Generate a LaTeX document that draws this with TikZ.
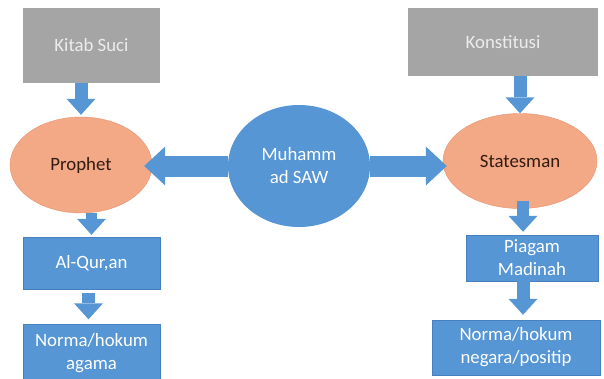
\documentclass[tikz,border=0pt]{standalone}
\usepackage{fontspec}
\setmainfont{Carlito}
\usetikzlibrary{arrows.meta,positioning,calc,shapes.geometric}
\definecolor{SiraBlue}{RGB}{86,150,212}
\definecolor{SiraBlueEdge}{RGB}{70,128,190}
\definecolor{SiraGray}{RGB}{165,165,165}
\definecolor{SiraPaleText}{RGB}{236,236,236}
\definecolor{SiraOrange}{RGB}{243,168,134}
\definecolor{SiraOrangeEdge}{RGB}{232,146,110}
\definecolor{SiraDark}{RGB}{50,28,18}

\begin{document}
\begin{tikzpicture}[x=1pt,y=-1pt,
    source/.style={fill=SiraGray,text=SiraPaleText,inner sep=2pt,font=\fontsize{18.8}{23}\selectfont},
    role/.style={ellipse,fill=SiraOrange,draw=SiraOrangeEdge,text=SiraDark,inner sep=0pt,font=\fontsize{18.8}{23}\selectfont},
    result/.style={fill=SiraBlue,draw=SiraBlueEdge,text=white,align=center,inner sep=2pt,font=\fontsize{18.8}{23}\selectfont},
    flow/.style={SiraBlue,line width=13pt,-{Triangle[length=16pt,width=29pt,line width=0pt]}},
    bigflow/.style={SiraBlue,line width=21pt,-{Triangle[length=21pt,width=39pt,line width=0pt]}}
  ]
    \useasboundingbox (0,0) rectangle (604,378);

    \node[source,minimum width=137pt,minimum height=75pt] (kitab) at (91.5,45.5) {Kitab Suci};
    \node[source,minimum width=190pt,minimum height=68pt] (konst) at (503,42) {Konstitusi};

    \node[role,minimum width=142pt,minimum height=96pt] (prophet) at (81,165) {Prophet};
    \node[ellipse,fill=SiraBlue,text=white,align=center,minimum width=142pt,minimum height=122pt,font=\fontsize{18.8}{23}\selectfont] (muh) at (299,166) {Muhamm\\ad SAW};
    \node[role,minimum width=154pt,minimum height=95pt] (states) at (520,161) {Statesman};

    \node[result,minimum width=137pt,minimum height=52pt] (quran) at (91.5,263) {Al-Qur,an};
    \node[result,minimum width=137pt,minimum height=57pt] (agama) at (91.5,353) {Norma/hokum\\agama};
    \node[result,minimum width=132pt,minimum height=46pt] (piagam) at (532,258) {Piagam\\Madinah};
    \node[result,minimum width=168pt,minimum height=55pt] (negara) at (516,347.5) {Norma/hokum\\negara/positip};

    % left column
    \draw[flow,shorten >=2pt] (kitab.south -| prophet.north) -- (prophet.north);
    \draw[bigflow,shorten >=-8pt] (muh.west) -- (muh.west -| prophet.east);
    \draw[flow,line width=11pt,shorten >=2pt] (prophet.south -| quran.north) -- (quran.north);
    \draw[flow,shorten <=4pt,shorten >=5pt] ($(quran.south)+(-3,0)$) -- ($(agama.north)+(-3,0)$);

    % right column
    \draw[flow,shorten >=0pt] (konst.south -| states.north) -- (states.north);
    \draw[bigflow,shorten >=-4pt] (muh.east) -- (muh.east -| states.west);
    \draw[flow,line width=12pt,shorten <=-8pt,shorten >=3pt] ($(states.south)+(3,0)$) -- ($(states.south |- piagam.north)+(3,0)$);
    \draw[flow,shorten <=-2pt,shorten >=5pt] ($(piagam.south -| states.south)+(3,0)$) -- ($(negara.north -| states.south)+(3,0)$);
  \end{tikzpicture}
\end{document}
